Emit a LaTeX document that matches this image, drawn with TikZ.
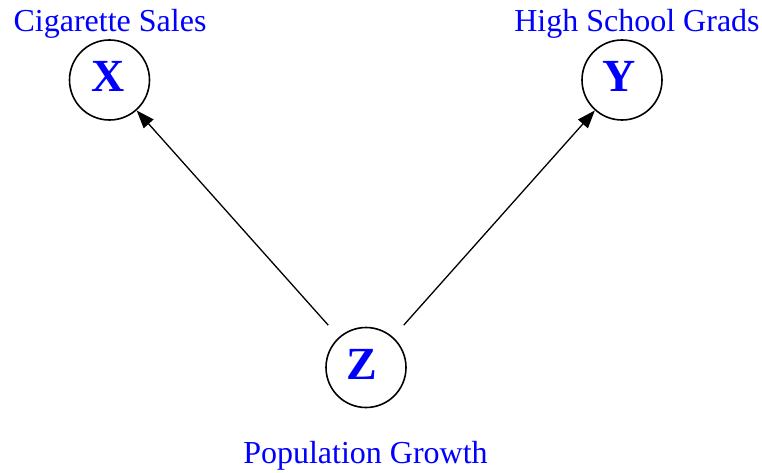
\documentclass[tikz,border=0pt]{standalone}
\usepackage{fontspec}
\setmainfont{Liberation Serif}
\usetikzlibrary{arrows.meta}
\begin{document}
\begin{tikzpicture}[x=1pt,y=-1pt,
  varcirc/.style={circle,draw=black,line width=1.6pt,minimum size=80pt,inner sep=0pt},
  varletter/.style={text=blue,font=\fontsize{46}{46}\selectfont\bfseries,inner sep=0pt},
  varlabel/.style={text=blue,font=\fontsize{32}{32}\selectfont,anchor=base,inner sep=0pt},
  causal/.style={line width=1.3pt,-{Triangle[length=18pt,width=13pt]},shorten <=16pt}]
\useasboundingbox (0,0) rectangle (762,473);
\node[varcirc] (X) at (109.5,80) {};
\node[varcirc] (Y) at (622,80) {};
\node[varcirc] (Z) at (366,367.5) {};
\node[varletter] (xl) at (108.5,76) {X};
\node[varletter] (yl) at (619.5,76) {Y};
\node[varletter] (zl) at (362,364.5) {Z};
\node[varlabel] (xlab) at (110,32) {Cigarette Sales};
\node[varlabel] (ylab) at (637,32) {High School Grads};
\node[varlabel] (zlab) at (365.5,463) {Population Growth};
\draw[causal] (Z) -- (X);
\draw[causal] (Z) -- (Y);
\end{tikzpicture}
\end{document}
